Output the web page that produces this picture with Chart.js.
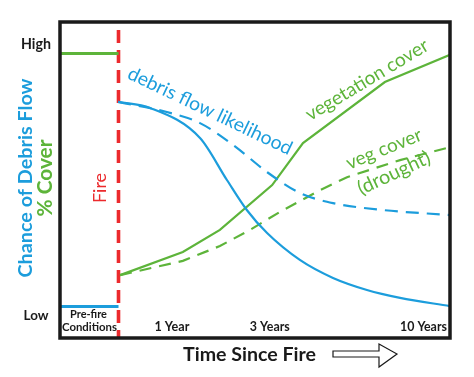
<!DOCTYPE html>
<html>
<head>
<meta charset="utf-8">
<script src="https://cdn.jsdelivr.net/npm/chart.js@4/dist/chart.umd.min.js"></script>
<style>
    body { margin: 0; background: #ffffff; }
    #wrap { width: 474px; height: 377px; }
</style>
</head>
<body>
<div id="wrap"><canvas id="debrisChart"></canvas></div>
<script>
// Time axis runs 0-100 across the frame, level axis 0 (low) to 100 (high)

// Fire marker and pre-fire conditions
const fireX = [15, 15];
const fireY = [0, 100];
const preFireX = [0, 15];
const preFireCover = [90, 90];
const preFireDebris = [10, 10];

// Debris flow likelihood after the fire
const debrisX = [14.9, 23.1, 35.9, 42.8, 47.9, 53.1, 61.5, 70, 78.7, 87.2, 100];
const debrisY = [74.7, 72.8, 63.3, 50, 40.5, 33.2, 24.7, 19, 15.2, 12.7, 10.1];

// Debris flow likelihood, drought (dashed)
const debrisDryX = [14.9, 27.4, 35.9, 44.4, 53.1, 61.5, 70, 82.8, 100];
const debrisDryY = [74.7, 71.5, 68, 61.1, 52.5, 45.9, 42.7, 40.5, 38.9];

// Vegetation cover
const vegX = [15.4, 31.5, 41, 54.4, 62.3, 83.3, 100];
const vegY = [19.9, 27.2, 34.2, 48.4, 61.7, 81, 89.6];

// Vegetation cover, drought
const vegDryX = [15.4, 31.5, 41, 48.7, 56.4, 66.7, 73.6, 87.2, 100];
const vegDryY = [19.9, 24.4, 29.1, 34.2, 39.9, 46.8, 50.9, 56.3, 60.4];

// Tick labels
const timeTicks = [28.7, 53.8, 93.2];
const timeLabels = ["1 Year", "3 Years", "10 Years"];
const levelTicks = [93, 7];
const levelLabels = ["High", "Low"];

const BLUE = "#1c9ddc";
const GREEN = "#5db43a";
const RED = "#ec2a2d";
const INK = "#1a1a1a";
const FONT = "Lato, 'Open Sans', sans-serif";

function toPoints(xs, ys) {
    return xs.map((x, i) => ({ x: x, y: ys[i] }));
}

// Set a font whose measured width matches the target width
function fitFont(ctx, text, weight, width) {
    ctx.font = `${weight} 20px ${FONT}`;
    const size = 20 * width / ctx.measureText(text).width;
    ctx.font = `${weight} ${size}px ${FONT}`;
}

function drawText(ctx, text, x, y, opts) {
    ctx.save();
    ctx.translate(x, y);
    ctx.rotate((opts.angle || 0) * Math.PI / 180);
    fitFont(ctx, text, opts.weight || "normal", opts.width);
    ctx.fillStyle = opts.color || INK;
    ctx.textAlign = "center";
    ctx.textBaseline = "middle";
    ctx.fillText(text, 0, 0);
    ctx.restore();
}


//====================== DECORATION PLUGIN ========================
const decorPlugin = {
    id: "decor",
    afterDatasetsDraw(chart) {
        const ctx = chart.ctx;
        const area = chart.chartArea;
        const xs = chart.scales.x;
        const ys = chart.scales.y;

        // Frame
        ctx.save();
        ctx.strokeStyle = INK;
        ctx.lineWidth = 3.5;
        ctx.strokeRect(area.left, area.top, area.right - area.left, area.bottom - area.top);
        ctx.restore();

        // Level ticks
        levelTicks.forEach((v, i) => {
            drawText(ctx, levelLabels[i], 36, ys.getPixelForValue(v),
                { weight: "bold", width: i == 0 ? 30 : 25 });
        });

        // Time ticks
        const tickWidths = [35, 40, 47];
        timeTicks.forEach((v, i) => {
            drawText(ctx, timeLabels[i], xs.getPixelForValue(v), 327,
                { weight: "bold", width: tickWidths[i] });
        });
        drawText(ctx, "Pre-fire", 88.5, 314, { weight: "bold", width: 37 });
        drawText(ctx, "Conditions", 89.5, 327.5, { weight: "bold", width: 55 });

        // Axis titles
        drawText(ctx, "Chance of Debris Flow", 25.5, 178,
            { weight: "bold", width: 199, angle: -90, color: BLUE });
        drawText(ctx, "% Cover", 45, 178,
            { weight: "bold", width: 77, angle: -90, color: GREEN });
        drawText(ctx, "Time Since Fire", 249.5, 354.5, { weight: "bold", width: 133 });

        // Arrow after the x title
        ctx.save();
        ctx.beginPath();
        ctx.moveTo(333, 351);
        ctx.lineTo(379, 351);
        ctx.lineTo(379, 344);
        ctx.lineTo(397, 354);
        ctx.lineTo(379, 367);
        ctx.lineTo(379, 357);
        ctx.lineTo(333, 357);
        ctx.closePath();
        ctx.strokeStyle = INK;
        ctx.lineWidth = 1.2;
        ctx.stroke();
        ctx.restore();

        // Curve labels
        drawText(ctx, "Fire", 100, 188, { width: 30, angle: -90, color: RED });
        drawText(ctx, "debris flow likelihood", 210, 111,
            { width: 180, angle: 25.5, color: BLUE });
        drawText(ctx, "vegetation cover", 367, 80,
            { width: 140, angle: -31, color: GREEN });
        drawText(ctx, "veg cover", 384, 149,
            { width: 80, angle: -22, color: GREEN });
        drawText(ctx, "(drought)", 394, 173,
            { width: 78, angle: -25, color: GREEN });
    }
};


//====================== CHART ========================
const ctx = document.getElementById("debrisChart").getContext("2d");

const debrisChart = new Chart(ctx, {
    type: "line",
    data: {
        datasets: [
            {
                label: "Pre-fire cover",
                data: toPoints(preFireX, preFireCover),
                borderColor: GREEN,
                borderWidth: 3,
                tension: 0
            },
            {
                label: "Pre-fire debris",
                data: toPoints(preFireX, preFireDebris),
                borderColor: BLUE,
                borderWidth: 3,
                tension: 0
            },
            {
                label: "Debris flow (drought)",
                data: toPoints(debrisDryX, debrisDryY),
                borderColor: BLUE,
                borderWidth: 2.2,
                borderDash: [13, 8],
                cubicInterpolationMode: "monotone"
            },
            {
                label: "Debris flow likelihood",
                data: toPoints(debrisX, debrisY),
                borderColor: BLUE,
                borderWidth: 2.2,
                cubicInterpolationMode: "monotone"
            },
            {
                label: "Veg cover (drought)",
                data: toPoints(vegDryX, vegDryY),
                borderColor: GREEN,
                borderWidth: 2.2,
                borderDash: [12, 8],
                tension: 0
            },
            {
                label: "Vegetation cover",
                data: toPoints(vegX, vegY),
                borderColor: GREEN,
                borderWidth: 2.2,
                tension: 0
            },
            {
                label: "Fire",
                data: toPoints(fireX, fireY),
                borderColor: RED,
                borderWidth: 3.6,
                borderDash: [13, 7],
                borderDashOffset: 5,
                tension: 0
            }
        ]
    },
    options: {
        responsive: true,
        maintainAspectRatio: false,
        animation: false,
        layout: {
            padding: { left: 60, top: 22, right: 24, bottom: 39 }
        },
        elements: {
            point: { radius: 0 }
        },
        scales: {
            x: { type: "linear", min: 0, max: 100, display: false },
            y: { type: "linear", min: 0, max: 100, display: false }
        },
        plugins: {
            legend: { display: false },
            tooltip: { enabled: false }
        }
    },
    plugins: [decorPlugin]
});
</script>
</body>
</html>
